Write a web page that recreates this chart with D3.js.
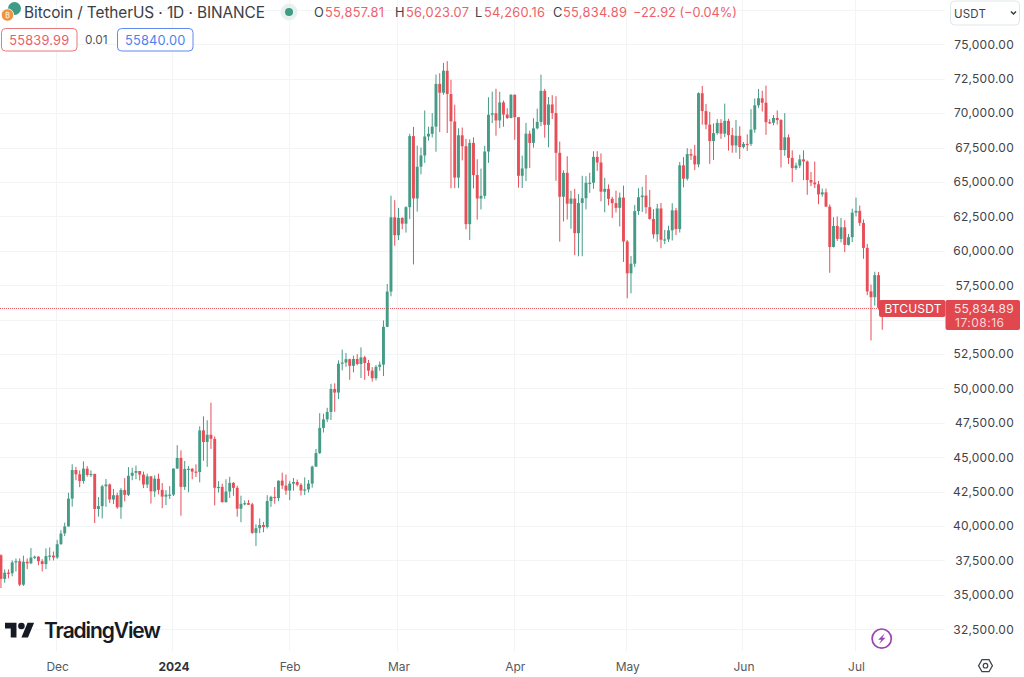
<!DOCTYPE html>
<html><head><meta charset="utf-8">
<script src="https://cdn.jsdelivr.net/npm/d3@7"></script>
<style>html,body{margin:0;padding:0;background:#fff}svg{display:block}text{font-family:Inter,"Noto Sans",sans-serif}</style>
</head><body><svg id="c" width="1024" height="677"></svg>
<script>
const firstDay = "2023-11-16";
const opens = [37880,36163,36613,36568,37359,37448,35741,37408,37294,37713,37780,37447,37242,37818,37854,
37723,38682,39472,39972,41992,44074,43762,43273,44171,43713,43789,41244,41450,42890,43023,41929,42240,41364,42623,42270,43652,43869,43998,43739,43016,43613,42520,43442,42627,42142,42283,
42284,44180,44946,42845,44151,44162,43958,43929,46951,46110,46632,46339,42782,42847,41733,42511,43137,42776,41261,41618,41665,41580,39507,39845,40077,39933,41816,42120,42031,43300,42941,
42580,43082,43200,42995,42582,42658,43084,44318,45301,47132,47751,48293,49958,49699,51795,51880,52124,51642,52137,51774,52258,51849,51288,50744,51568,51728,54476,57037,62432,
61130,62387,61968,63168,68330,63802,66106,66925,68300,68498,69019,72123,71481,73079,71387,69392,65316,68390,67594,61937,67840,65501,63796,63990,67210,69880,69988,69469,70780,69897,69645,
71333,69702,65446,65980,68508,67837,68896,69360,71620,69146,70631,70006,67116,63924,65661,63419,63793,61277,63470,63818,64941,64941,66819,66414,64289,64498,63770,63461,63118,63866,
60672,58364,59060,62882,63892,64012,63165,62312,61193,63074,60799,60825,61484,62938,61577,66206,65236,67024,66915,66274,71446,70148,69166,67969,68549,69290,68507,69436,68398,67652,68352,
67540,67766,67765,68805,70568,71082,70757,69342,69305,69648,69500,67321,68243,66747,66006,66191,66639,66490,65140,64960,64828,64096,64245,63210,60277,61806,60864,61706,60427,60986,
62772,62900,62023,60208,57050,56628,58230,55858];
const highs = [37950,36850,36850,37500,37650,37650,37850,37650,38400,37850,37800,37600,38380,38450,38150,
38999,39700,40250,42420,44488,44300,44047,44700,44358,44049,43800,42104,43000,43420,43087,42700,42424,42756,43488,44283,44240,44398,44000,43954,43800,43614,43683,43804,43124,42612,42899,
44184,45879,45500,44729,44357,44214,44486,47248,47972,47689,48969,46515,43257,43079,43400,43578,43198,42930,42209,41869,41891,41689,40129,40555,40300,42246,42200,42842,43305,43882,43745,
43285,43488,43380,43119,43535,43345,44396,45600,48200,48170,48592,50334,50368,52043,52816,52572,52163,52377,52488,52985,52367,52065,51548,51698,51958,54938,57588,64000,63676,
63114,62433,63230,68499,69000,67637,67500,70194,69010,70000,72800,72900,73650,73777,72420,70615,68897,68956,68124,68100,68240,66649,65970,67622,71150,71561,71769,71552,70916,70355,71377,
71366,69708,66914,69291,68725,69629,70326,72797,71758,71172,71305,71227,67932,65840,66867,64365,64499,64117,65450,65419,65666,67232,67232,67075,65297,64820,63923,64370,64227,64734,
60780,59625,63333,64544,64646,65500,64422,63021,63404,63469,61515,61818,63450,63118,66444,66800,67451,67400,67700,71515,71979,70666,70096,69250,69562,69562,70687,69591,68935,69500,69044,
67900,68460,70288,71063,71758,71625,71997,69560,69860,70195,69559,69999,68450,67294,66400,66977,67298,66556,65727,66482,65066,64525,64513,63369,62435,62487,62389,62225,61224,63058,
63861,63288,62272,60498,57546,58475,58449,56023];
const lows = [35500,35880,36200,36350,36700,35633,35650,36870,37230,37600,37150,36700,36870,37500,37500,
37615,38650,39278,39972,41414,43335,42821,43082,43584,43564,40222,40680,40555,41400,41666,41600,41250,40530,41792,42180,43330,43400,43310,42756,42765,41638,42117,42296,41300,41520,41965,
42180,44148,40750,42629,42450,43397,43565,43175,44748,44300,45606,41500,42436,41720,41718,42048,42200,40683,40280,41500,41551,39431,38555,39484,39550,39822,41394,41620,41804,42683,42276,
41884,42574,42880,42222,42258,42439,42788,44320,45242,46800,47557,47710,48300,49225,51314,51570,50625,51163,51677,50760,50625,50913,50500,50585,51280,50901,54450,56691,60364,
60777,61561,61321,62300,59005,62848,65550,66384,68000,68230,67194,68620,71333,68555,64533,64550,64555,66565,61555,60775,64529,62260,63000,63772,66385,69280,68359,68903,69009,69577,69624,
68062,64586,64559,65064,66011,67491,68824,69043,68210,67518,69567,65086,60660,62134,62274,61600,59678,59600,59600,63007,64210,64500,65800,63589,62794,63297,62391,62781,61765,59191,
56552,56911,58811,62600,62822,62700,62261,60888,60648,60187,60487,60630,60749,61142,61319,64600,65106,66600,65857,66060,69162,68832,66312,66600,68429,68128,68250,67277,67124,67128,66670,
67428,67257,67612,68568,70383,70119,68420,69210,69120,69172,66051,66902,66304,64989,65870,66000,65130,64066,64693,64559,63379,63929,63178,58402,60239,60712,60606,59900,60383,60632,
62497,61806,59419,56771,53485,56018,55724,54260];
const closes = [36163,36613,36568,37359,37448,35741,37408,37294,37713,37780,37447,37242,37818,37854,37723,
38682,39457,39972,41991,44073,43762,43273,44170,43713,43789,41243,41450,42890,43022,41929,42240,41364,42623,42270,43652,43869,43997,43739,43016,43613,42520,43442,42627,42142,42283,42284,
44179,44946,42845,44151,44162,43958,43929,46951,46110,46632,46339,42782,42847,41732,42511,43137,42776,41262,41618,41665,41545,39507,39845,40077,39933,41816,42120,42031,43300,42941,42580,
43082,43200,42995,42582,42658,43084,44318,45301,47132,47751,48293,49958,49699,51795,51880,52124,51642,52137,51774,52258,51849,51288,50744,51568,51728,54476,57037,62432,61130,
62387,61968,63168,68330,63802,66106,66925,68300,68498,69019,72123,71481,73083,71396,69403,65315,68390,67594,61937,67840,65501,63796,63990,67209,69880,69988,69469,70780,69897,69645,71333,
69702,65446,65980,68508,67837,68896,69360,71620,69146,70631,70006,67116,63924,65661,63419,63793,61277,63470,63818,64940,64941,66819,66414,64289,64498,63770,63461,63118,63866,60672,
58364,59060,62882,63892,64012,63165,62312,61193,63074,60799,60825,61484,62938,61577,66206,65235,67024,66915,66274,71446,70148,69166,67969,68549,69290,68507,69436,68398,67652,68352,67540,
67766,67765,68805,70568,71082,70757,69342,69305,69648,69500,67321,68243,66747,66006,66191,66639,66490,65140,64960,64828,64096,64245,63210,60277,61806,60864,61706,60427,60986,62772,
62900,62023,60208,57050,56628,58230,55857,55835];
const priceTicks = [32500,35000,37500,40000,42500,45000,47500,50000,52500,57500,60000,62500,65000,67500,70000,72500,75000];
const gridOnlyTicks = [55000,77500];
const monthTicks = ["2023-12-01","2024-01-01","2024-02-01","2024-03-01","2024-04-01","2024-05-01","2024-06-01","2024-07-01"];
const monthLabels = ["Dec","2024","Feb","Mar","Apr","May","Jun","Jul"];
const lastPrice = 55834.89;
const legendTitle = "Bitcoin / TetherUS · 1D · BINANCE";
const ohlcLabels = ["O","H","L","C"];
const ohlcValues = ["55,857.81","56,023.07","54,260.16","55,834.89"];
const changeText = "−22.92 (−0.04%)";

const GREEN="#459b85", RED="#e84e58", GRID="#f2f4f5", TXT="#3f434a", PLOT_R=945, PLOT_B=651;
const parse=d3.utcParse("%Y-%m-%d");
const days=opens.map((_,i)=>d3.utcDay.offset(parse(firstDay),i));
const x=d3.scaleUtc().domain([parse(monthTicks[0]),parse(monthTicks[7])]).range([57.2,856]);
const y=d3.scaleLinear().domain([32500,75000]).range([629.3,44.3]);
const svg=d3.select("#c");
svg.append("rect").attr("width",1024).attr("height",677).attr("fill","#fff");

// grid
const grid=svg.append("g").attr("stroke",GRID).attr("stroke-width",1);
grid.selectAll("line.h").data(priceTicks.concat(gridOnlyTicks)).join("line").attr("class","h")
 .attr("x1",0).attr("x2",PLOT_R).attr("y1",d=>Math.round(y(d))+.5).attr("y2",d=>Math.round(y(d))+.5);
grid.selectAll("line.v").data(monthTicks).join("line").attr("class","v")
 .attr("y1",0).attr("y2",PLOT_B).attr("x1",d=>Math.round(x(parse(d)))-.5).attr("x2",d=>Math.round(x(parse(d)))-.5);

// last price line
svg.append("line").attr("x1",0).attr("x2",PLOT_R).attr("y1",Math.floor(y(lastPrice))+.5).attr("y2",Math.floor(y(lastPrice))+.5)
 .attr("stroke","#ec5f68").attr("stroke-width",1).attr("stroke-dasharray","1 1");

// candles
const idx=d3.range(opens.length);
const cg=svg.append("g");
const col=i=>closes[i]>=opens[i]?GREEN:RED;
cg.selectAll("line").data(idx).join("line")
 .attr("x1",i=>x(days[i])).attr("x2",i=>x(days[i]))
 .attr("y1",i=>y(highs[i])).attr("y2",i=>y(lows[i])).attr("stroke",col).attr("stroke-width",1);
cg.selectAll("rect").data(idx).join("rect")
 .attr("x",i=>x(days[i])-1.45).attr("width",2.9)
 .attr("y",i=>y(Math.max(opens[i],closes[i])))
 .attr("height",i=>Math.max(1.2,Math.abs(y(opens[i])-y(closes[i])))).attr("fill",col);

// axes
const yAxis=d3.axisRight(y).tickValues(priceTicks).tickSize(0).tickPadding(0).tickFormat(d3.format(",.2f"));
const ya=svg.append("g").attr("transform","translate(1014,0)").call(yAxis);
ya.select(".domain").remove();
ya.selectAll("text").attr("text-anchor","end").attr("x",0).attr("font-size",12).attr("letter-spacing",.25).attr("fill",TXT).style("font-family","Inter");
const xAxis=d3.axisBottom(x).tickValues(monthTicks.map(parse)).tickSize(0).tickPadding(0)
 .tickFormat((d,i)=>monthLabels[i]);
const xa=svg.append("g").attr("transform","translate(0,662)").call(xAxis);
xa.select(".domain").remove();
xa.selectAll("text").attr("font-size",12).style("font-family","Inter")
 .attr("font-weight",(d,i)=>monthLabels[i]==="2024"?700:400)
 .attr("fill",(d,i)=>monthLabels[i]==="2024"?"#2f3238":"#565a60");

// header
svg.append("circle").attr("cx",14.5).attr("cy",8.5).attr("r",6.5).attr("fill","#3e9c86");
svg.append("circle").attr("cx",7.5).attr("cy",15).attr("r",6.2).attr("fill","#ee9440").attr("stroke","#fff").attr("stroke-width",.8);
svg.append("text").attr("x",7.5).attr("y",17.6).attr("text-anchor","middle").attr("font-size",7).attr("fill","#fbe3c6").attr("font-weight",700).text("₿");
svg.append("text").attr("x",24).attr("y",18).attr("font-size",15.4).attr("fill","#3a3e45").attr("textLength",241).text(legendTitle);
svg.append("circle").attr("cx",289).attr("cy",12).attr("r",8.5).attr("fill","#e9f1ef");
svg.append("circle").attr("cx",289).attr("cy",12).attr("r",4).attr("fill","#3e9c86");
const ohlcX=[314,395,475,553], valX=[325,406,484,563];
ohlcLabels.forEach((l,i)=>{
 svg.append("text").attr("x",ohlcX[i]).attr("y",17).attr("font-size",12.8).attr("fill",TXT).text(l);
 svg.append("text").attr("x",valX[i]).attr("y",17).attr("font-size",12.8).attr("letter-spacing",.3).attr("fill","#ee5f68").text(ohlcValues[i]);
});
svg.append("text").attr("x",633).attr("y",17).attr("font-size",12.8).attr("fill","#ee5f68").attr("textLength",104).text(changeText);

// bid / ask
function box(x0,w,c,t,tc){
 svg.append("rect").attr("x",x0+.5).attr("y",28.5).attr("width",w).attr("height",22.5).attr("rx",4).attr("fill","#fff").attr("stroke",c);
 svg.append("text").attr("x",x0+w/2+.5).attr("y",44.5).attr("text-anchor","middle").attr("font-size",12.8).attr("letter-spacing",.2).attr("fill",tc).text(t);
}
box(1,75.5,"#e8777e","55839.99","#e8606a");
box(117,75.5,"#5f8af0","55840.00","#4f7ff0");
svg.append("text").attr("x",85).attr("y",44).attr("font-size",11.8).attr("fill","#50545a").text("0.01");

// USDT selector
svg.append("rect").attr("x",950.5).attr("y",1).attr("width",69).attr("height",24).attr("rx",4).attr("fill","#fff").attr("stroke","#dfe8ea");
svg.append("text").attr("x",954).attr("y",17.5).attr("font-size",11.5).attr("letter-spacing",.2).attr("fill",TXT).text("USDT");
svg.append("path").attr("d","M1011 11.5l2.5 2.5 2.5-2.5").attr("fill","none").attr("stroke","#33373d").attr("stroke-width",1.4);

// last price tags
svg.append("rect").attr("x",879).attr("y",300).attr("width",66.5).attr("height",17).attr("rx",2).attr("fill","#e0474f");
svg.append("text").attr("x",884.5).attr("y",312.8).attr("font-size",12).attr("letter-spacing",.15).attr("fill","#fff").text("BTCUSDT");
svg.append("rect").attr("x",945.5).attr("y",300).attr("width",74.5).attr("height",30).attr("rx",2).attr("fill","#e0474f");
svg.append("text").attr("x",1014).attr("y",312.5).attr("text-anchor","end").attr("font-size",12).attr("letter-spacing",.25).attr("fill","#fbe4e5").text(d3.format(",.2f")(lastPrice));
svg.append("text").attr("x",955).attr("y",326.5).attr("font-size",12).attr("letter-spacing",.5).attr("fill","#f9d6d8").text("17:08:16");

// TradingView logo
const logo=svg.append("g").attr("transform","translate(5,619.4) scale(.82)").attr("fill","#161a25");
logo.append("path").attr("d","M14 22H7V11H0V4h14v18zM28 22h-8l7.5-18h8L28 22z");
logo.append("circle").attr("cx",20).attr("cy",8).attr("r",4);
svg.append("text").attr("x",44).attr("y",637.5).attr("font-size",21).attr("font-weight",600).attr("fill","#161a25").attr("textLength",117).text("TradingView");

// lightning badge
svg.append("circle").attr("cx",881.7).attr("cy",638.6).attr("r",9.6).attr("fill","#fff").attr("stroke","#9b45b4").attr("stroke-width",1.7);
svg.append("path").attr("d","M884.8 633.3l-6.6 6.4h3.2l-2.4 4.2 6.6-6.2h-3.2z").attr("fill","#9b45b4");

// settings icon
svg.append("path").attr("d","M978.6 665.7l3.4-6h7l3.4 6-3.4 6h-7z").attr("fill","none").attr("stroke","#3f434a").attr("stroke-width",1.3);
svg.append("circle").attr("cx",985.5).attr("cy",665.7).attr("r",2.3).attr("fill","none").attr("stroke","#3f434a").attr("stroke-width",1.2);
</script></body></html>
